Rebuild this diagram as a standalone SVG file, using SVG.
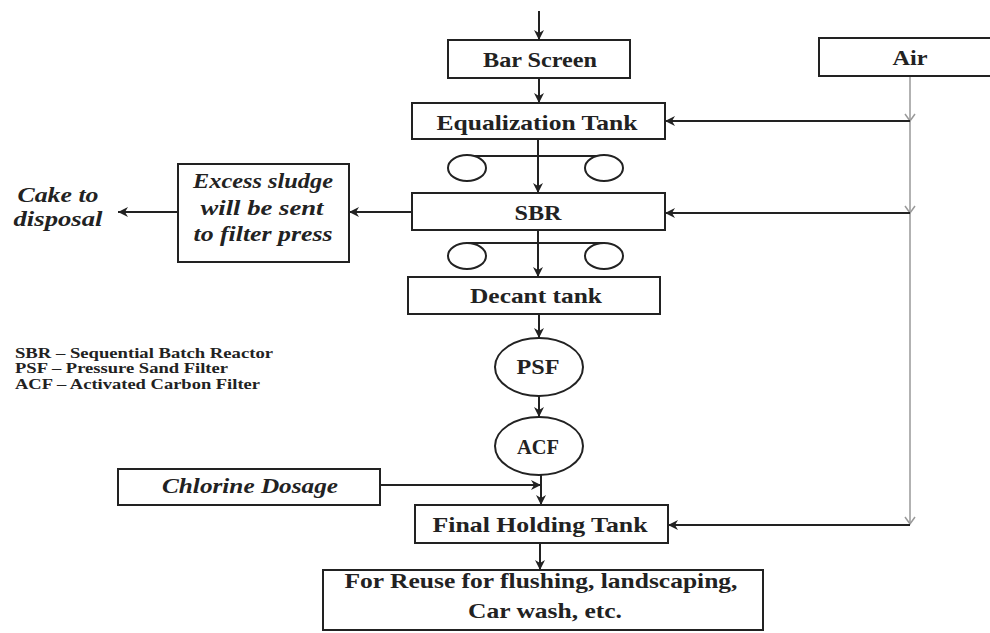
<svg xmlns="http://www.w3.org/2000/svg" width="990" height="633" viewBox="0 0 990 633">
<defs>
<marker id="ah" viewBox="0 0 10 10" refX="10" refY="5" markerWidth="10" markerHeight="10" markerUnits="userSpaceOnUse" orient="auto">
<path d="M0,0 L10,5 L0,10 L3,5 z" fill="#222"/>
</marker>
</defs>
<style>
.box{fill:#fff;stroke:#222;stroke-width:2}
.pump{fill:#fff;stroke:#222;stroke-width:2}
.t{font-family:"Liberation Serif",serif;font-weight:bold;font-size:21px;fill:#222;text-anchor:middle}
.it{font-family:"Liberation Serif",serif;font-weight:bold;font-style:italic;font-size:21px;fill:#222;text-anchor:middle}
.lg{font-family:"Liberation Serif",serif;font-weight:bold;font-size:15px;fill:#222}
.ln{fill:none;stroke:#222;stroke-width:2}
.arr{fill:none;stroke:#222;stroke-width:2;marker-end:url(#ah)}
.air{fill:none;stroke:#999;stroke-width:1.5}
</style>
<rect width="990" height="633" fill="#fff"/>

<g id="connectors">
<line class="arr" x1="539" y1="11" x2="539" y2="40"/>
<line class="arr" x1="539" y1="78" x2="539" y2="103"/>
<line class="arr" x1="538" y1="139" x2="538" y2="193"/>
<line class="ln" x1="467" y1="156" x2="604" y2="156"/>
<line class="arr" x1="538" y1="230" x2="538" y2="277"/>
<line class="ln" x1="467" y1="243" x2="604" y2="243"/>
<line class="arr" x1="539" y1="314" x2="539" y2="338"/>
<line class="arr" x1="539" y1="396" x2="539" y2="417"/>
<line class="arr" x1="541" y1="475" x2="541" y2="505"/>
<line class="arr" x1="380" y1="485" x2="541" y2="485"/>
<line class="arr" x1="540" y1="543" x2="540" y2="570"/>
<line class="arr" x1="412" y1="212" x2="349" y2="212"/>
<line class="arr" x1="178" y1="212" x2="118" y2="212"/>
<line class="air" x1="910" y1="76" x2="910" y2="524"/>
<polyline class="air" points="905,114 910,121 915,114"/>
<polyline class="air" points="905,206 910,213 915,206"/>
<polyline class="air" points="905,517 910,524 915,517"/>
<line class="arr" x1="910" y1="121" x2="665" y2="121"/>
<line class="arr" x1="910" y1="213" x2="665" y2="213"/>
<line class="arr" x1="910" y1="525" x2="668" y2="525"/>
</g>

<g id="bar-screen">
<rect class="box" x="448" y="40" width="182" height="38"/>
<text class="t" x="540" y="67" textLength="114" lengthAdjust="spacingAndGlyphs">Bar Screen</text>
</g>
<g id="air">
<rect class="box" x="819" y="38" width="180" height="38"/>
<text class="t" x="910" y="65" textLength="35" lengthAdjust="spacingAndGlyphs">Air</text>
</g>
<g id="equalization-tank">
<rect class="box" x="412" y="103" width="253" height="36"/>
<text class="t" x="537" y="130" textLength="201" lengthAdjust="spacingAndGlyphs">Equalization Tank</text>
</g>
<g id="pumps-1">
<ellipse class="pump" cx="467" cy="168" rx="19" ry="13"/>
<ellipse class="pump" cx="604" cy="168" rx="19" ry="13"/>
</g>
<g id="sbr">
<rect class="box" x="412" y="193" width="253" height="37"/>
<text class="t" x="538" y="220" textLength="47" lengthAdjust="spacingAndGlyphs">SBR</text>
</g>
<g id="pumps-2">
<ellipse class="pump" cx="467" cy="256" rx="19" ry="13"/>
<ellipse class="pump" cx="604" cy="256" rx="19" ry="13"/>
</g>
<g id="excess-sludge">
<rect class="box" x="178" y="164" width="171" height="98"/>
<text class="it" x="263" y="188" textLength="140" lengthAdjust="spacingAndGlyphs">Excess sludge</text>
<text class="it" x="262" y="215" textLength="123" lengthAdjust="spacingAndGlyphs">will be sent</text>
<text class="it" x="263" y="241" textLength="139" lengthAdjust="spacingAndGlyphs">to filter press</text>
</g>
<g id="cake">
<text class="it" x="58" y="202" textLength="81" lengthAdjust="spacingAndGlyphs">Cake to</text>
<text class="it" x="58" y="226" textLength="89" lengthAdjust="spacingAndGlyphs">disposal</text>
</g>
<g id="decant-tank">
<rect class="box" x="408" y="277" width="252" height="37"/>
<text class="t" x="536" y="303" textLength="132" lengthAdjust="spacingAndGlyphs">Decant tank</text>
</g>
<g id="legend">
<text class="lg" x="15" y="358" textLength="258" lengthAdjust="spacingAndGlyphs">SBR – Sequential Batch Reactor</text>
<text class="lg" x="15" y="373" textLength="213" lengthAdjust="spacingAndGlyphs">PSF – Pressure Sand Filter</text>
<text class="lg" x="15" y="389" textLength="245" lengthAdjust="spacingAndGlyphs">ACF – Activated Carbon Filter</text>
</g>
<g id="psf">
<ellipse class="pump" cx="539" cy="367" rx="44" ry="29"/>
<text class="t" x="538" y="374" textLength="43" lengthAdjust="spacingAndGlyphs">PSF</text>
</g>
<g id="acf">
<ellipse class="pump" cx="539" cy="446" rx="44" ry="29"/>
<text class="t" x="538" y="454" textLength="42" lengthAdjust="spacingAndGlyphs">ACF</text>
</g>
<g id="chlorine-dosage">
<rect class="box" x="118" y="469" width="262" height="36"/>
<text class="it" x="250" y="493" textLength="176" lengthAdjust="spacingAndGlyphs">Chlorine Dosage</text>
</g>
<g id="final-holding-tank">
<rect class="box" x="415" y="505" width="253" height="38"/>
<text class="t" x="540" y="532" textLength="215" lengthAdjust="spacingAndGlyphs">Final Holding Tank</text>
</g>
<g id="reuse">
<rect class="box" x="323" y="570" width="440" height="60"/>
<text class="t" x="541" y="588" textLength="393" lengthAdjust="spacingAndGlyphs">For Reuse for flushing, landscaping,</text>
<text class="t" x="545" y="618" textLength="154" lengthAdjust="spacingAndGlyphs">Car wash, etc.</text>
</g>
</svg>
